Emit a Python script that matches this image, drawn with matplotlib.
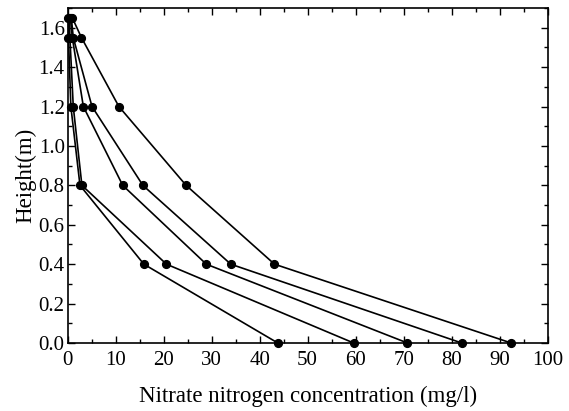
import matplotlib
matplotlib.use('Agg')
import matplotlib.pyplot as plt
from matplotlib.ticker import MultipleLocator

plt.rcParams['font.family'] = ['Liberation Serif', 'DejaVu Serif']

# heights of the sampling points (m)
height = [0.0, 0.4, 0.8, 1.2, 1.55, 1.65]

# nitrate nitrogen concentration (mg/l) for each profile
conc_a = [43.8, 15.9, 2.6, 0.7, 0.2, 0.2]
conc_b = [59.6, 20.6, 3.0, 1.2, 0.5, 0.4]
conc_c = [70.8, 28.9, 11.5, 3.3, 1.0, 0.6]
conc_d = [82.1, 34.0, 15.7, 5.1, 1.2, 0.8]
conc_e = [92.4, 43.1, 24.7, 10.7, 2.9, 1.0]

fig = plt.figure(figsize=(5.69, 4.11), dpi=100)
ax = fig.add_axes([67.5 / 569, 1 - 343 / 411, 480.2 / 569, 335 / 411])

for c in [conc_a, conc_b, conc_c, conc_d, conc_e]:
    ax.plot(c, height, color='black', lw=1.2, marker='o', ms=5.6,
            clip_on=False, zorder=3)

ax.set_xlim(0, 100)
ax.set_ylim(0, 1.7)
ax.xaxis.set_major_locator(MultipleLocator(10))
ax.xaxis.set_minor_locator(MultipleLocator(5))
ax.yaxis.set_minor_locator(MultipleLocator(0.1))
ax.set_yticks([0, 0.2, 0.4, 0.6, 0.8, 1.0, 1.2, 1.4, 1.6])
ax.set_yticklabels(['0.0', '0.2', '0.4', '0.6', '0.8', '1.0', '1.2', '1.4', '1.6'])
ax.tick_params(which='both', direction='in', top=True, right=True,
               labelsize=15, width=1)
ax.tick_params(which='major', length=5)
ax.tick_params(which='minor', length=3)
ax.tick_params(axis='x', pad=6)
ax.tick_params(axis='y', pad=2)
for s in ax.spines.values():
    s.set_linewidth(1.2)

ax.set_xlabel('Nitrate nitrogen concentration (mg/l)', fontsize=16.5, labelpad=11)
ax.set_ylabel('Height(m)', fontsize=16.5, labelpad=2)

fig.savefig('out.png', dpi=100)
